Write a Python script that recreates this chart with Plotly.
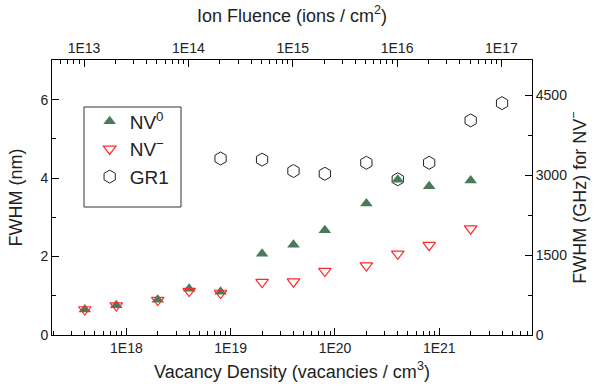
import plotly.graph_objects as go
import numpy as np

# Data
density = [4e17, 8e17, 2e18, 4e18, 8e18, 2e19, 4e19, 8e19, 2e20, 4e20, 8e20, 2e21]
nv0 = [0.65, 0.76, 0.90, 1.18, 1.10, 2.07, 2.30, 2.67, 3.35, 3.96, 3.79, 3.94]
nvm = [0.65, 0.75, 0.89, 1.12, 1.07, 1.35, 1.36, 1.63, 1.77, 2.07, 2.29, 2.71]
gr1_density = [8e18, 2e19, 4e19, 8e19, 2e20, 4e20, 8e20, 2e21, 4e21]
gr1 = [4.50, 4.47, 4.18, 4.11, 4.39, 3.97, 4.39, 5.47, 5.91]

bottom_ticks = [1e18, 1e19, 1e20, 1e21]
bottom_labels = ["1E18", "1E19", "1E20", "1E21"]
top_ticks = [1e13, 1e14, 1e15, 1e16, 1e17]
top_labels = ["1E13", "1E14", "1E15", "1E16", "1E17"]
left_ticks = [0, 2, 4, 6]
right_ticks = [0, 1500, 3000, 4500]

FONT = "Liberation Sans, Arial, sans-serif"
TXT = "#222222"
TITLE = dict(family=FONT, size=18, color=TXT)


def log_minors(lo, hi):
    vals = []
    for e in range(lo, hi + 1):
        for m in range(2, 10):
            vals.append(m * 10.0 ** e)
    return vals


fig = go.Figure()

fig.add_trace(go.Scatter(
    x=gr1_density, y=gr1, mode="markers", name="GR1", legendrank=3,
    marker=dict(symbol="hexagon-open", size=13, color="#222222", line=dict(width=1)),
))
fig.add_trace(go.Scatter(
    x=density, y=nv0, mode="markers", name="NV<sup>0</sup>", legendrank=1,
    marker=dict(symbol="triangle-up", size=11, color="#4a7a5a", line=dict(width=0)),
))
fig.add_trace(go.Scatter(
    x=density, y=nvm, mode="markers", name="NV<sup>\u2212</sup>", legendrank=2,
    marker=dict(symbol="triangle-down-open", size=11, color="#ff2a2a", line=dict(width=1.2)),
))
# dummy trace to realize top / right axes
fig.add_trace(go.Scatter(
    x=[1e15], y=[1000], xaxis="x2", yaxis="y2", mode="markers",
    marker=dict(opacity=0), showlegend=False, hoverinfo="skip",
))

axis_common = dict(showline=True, linecolor="black", linewidth=1, ticks="inside",
                   tickcolor="black", showgrid=False, zeroline=False,
                   tickfont=dict(family=FONT, size=14, color=TXT))

PW, PH = 480.0, 275.0  # plot area size in px
L, T = 52.0, 60.0

fig.update_layout(
    width=595, height=390,
    margin=dict(l=52, r=63, t=60, b=55),
    paper_bgcolor="white", plot_bgcolor="white",
    font=dict(family=FONT, color=TXT),
    xaxis=dict(
        type="log", range=[17.287, 21.889],
        tickvals=bottom_ticks, ticktext=bottom_labels, ticklen=7,
        minor=dict(tickvals=log_minors(17, 21), ticks="inside", ticklen=4, tickcolor="black"),
        title=dict(text="Vacancy Density (vacancies / cm<sup>3</sup>)", font=TITLE, standoff=10),
        **axis_common,
    ),
    xaxis2=dict(
        type="log", range=[12.693, 17.293], overlaying="x", side="top", anchor="y2",
        tickvals=top_ticks, ticktext=top_labels, ticklen=7,
        minor=dict(tickvals=log_minors(12, 17), ticks="inside", ticklen=4, tickcolor="black"),
        title=dict(text="Ion Fluence (ions / cm<sup>2</sup>)", font=TITLE, standoff=13),
        **axis_common,
    ),
    yaxis=dict(
        range=[0, 7.01], tickvals=left_ticks, ticklen=7,
        minor=dict(tickvals=[1, 3, 5, 7], ticks="inside", ticklen=4, tickcolor="black"),
        title=dict(text="FWHM (nm)", font=TITLE, standoff=13),
        **axis_common,
    ),
    yaxis2=dict(
        range=[0, 5165], overlaying="y", side="right", anchor="x2",
        tickvals=right_ticks, ticklen=7,
        minor=dict(tickvals=[750, 2250, 3750], ticks="inside", ticklen=4, tickcolor="black"),
        title=dict(text="FWHM (GHz) for NV<sup>\u2212</sup>", font=TITLE, standoff=0),
        **axis_common,
    ),
    legend=dict(
        x=0.0785, y=0.846, xanchor="left", yanchor="top",
        bgcolor="rgba(0,0,0,0)", borderwidth=0,
        font=dict(family=FONT, size=19, color=TXT),
        itemsizing="trace",
    ),
    shapes=[dict(
        type="rect", xref="paper", yref="paper",
        x0=(84 - L) / PW, x1=(181 - L) / PW,
        y0=1 - (207 - T) / PH, y1=1 - (107 - T) / PH,
        line=dict(color="#333333", width=1), fillcolor="white", layer="below",
    )],
    showlegend=True,
)

fig.write_html("out.html")
